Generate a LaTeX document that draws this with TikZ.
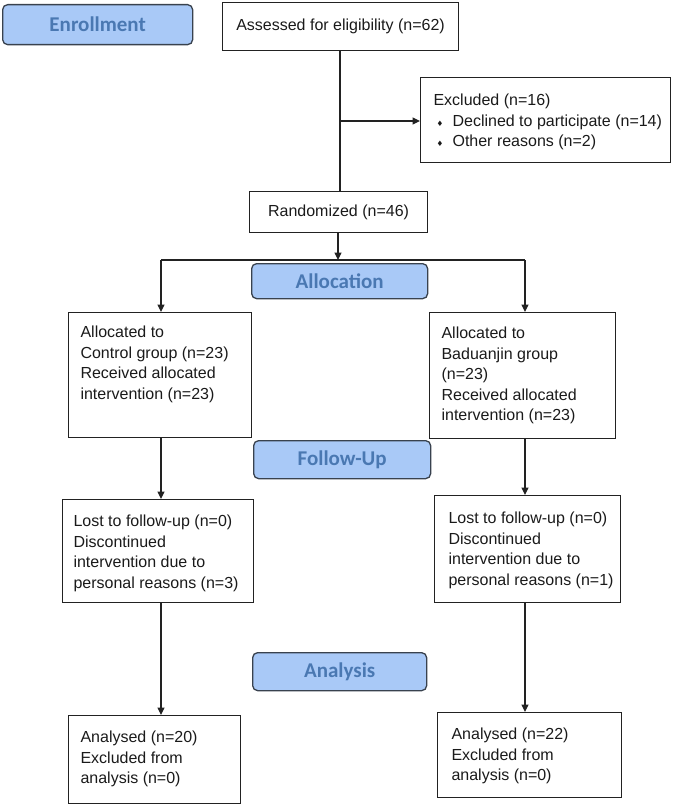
\documentclass[tikz,border=0pt]{standalone}
\usepackage{fontspec}
\setmainfont{Liberation Sans}
\newfontfamily\stagefont{Carlito}
\newfontfamily\symfont{DejaVu Sans}
\usetikzlibrary{arrows.meta}

\definecolor{stagefill}{HTML}{A9C9F7}
\definecolor{stageline}{HTML}{39424E}
\definecolor{stagetext}{HTML}{4A78B2}
\definecolor{boxline}{HTML}{222222}
\definecolor{boxtext}{HTML}{1A1A1A}

% text block of fixed size: width, height, left pad, first baseline, text
\newcommand{\boxtxt}[5]{\parbox[c][#2][t]{#1}{\fontsize{16}{20.6}\selectfont
  \parindent=0pt\leftskip=#3\rightskip=0pt plus 1fil\relax\rule{0pt}{#4}#5}}
\newcommand{\dia}{\makebox[19pt][l]{\hspace{3pt}{\symfont\fontsize{7.5}{7.5}\selectfont ♦}}}

\begin{document}
\begin{tikzpicture}[x=1pt,y=-1pt,
  flowbox/.style={draw=boxline, line width=1.1pt, text=boxtext, inner sep=0pt, anchor=north west},
  stage/.style={draw=stageline, fill=stagefill, line width=1.3pt, rounded corners=5pt,
    text=stagetext, font=\stagefont\bfseries\fontsize{21}{22}\selectfont,
    inner sep=0pt, anchor=north west},
  flow/.style={draw=boxline, line width=1.1pt},
  arr/.style={flow, -{Triangle[length=7.5pt,width=7pt]}}]
\useasboundingbox (0,0) rectangle (672,805);

% stage labels
\node[stage, minimum width=190pt, minimum height=40pt] (enrol) at (2,4) {Enrollment};
\node[stage, minimum width=176pt, minimum height=35pt] (alloc) at (251,263) {Allocation};
\node[stage, minimum width=177pt, minimum height=38pt] (follow) at (253,440) {Follow-Up};
\node[stage, minimum width=174pt, minimum height=38pt] (analysis) at (252,652) {Analysis};

% enrolment
\node[flowbox, minimum width=236pt, minimum height=48pt, font=\fontsize{16}{18}\selectfont] (assess) at (222,2)
  {\raisebox{3pt}{Assessed for eligibility (n=62)}};
\node[flowbox] (excl) at (420,77)
  {\boxtxt{250pt}{85pt}{13pt}{28pt}{Excluded (n=16)\\
   \dia Declined to participate (n=14)\\
   \dia Other reasons (n=2)}};
\node[flowbox, minimum width=178pt, minimum height=41pt, font=\fontsize{16}{18}\selectfont] (rand) at (249,191)
  {Randomized (n=46)};

% allocation
\node[flowbox] (ca) at (68,312)
  {\boxtxt{183pt}{125pt}{12pt}{25pt}{Allocated to\\Control group (n=23)\\Received allocated\\intervention (n=23)}};
\node[flowbox] (ba) at (429,312)
  {\boxtxt{186pt}{126pt}{12pt}{26pt}{Allocated to\\Baduanjin group\\(n=23)\\Received allocated\\intervention (n=23)}};

% follow-up
\node[flowbox] (cl) at (62,499)
  {\boxtxt{191pt}{103pt}{11pt}{27pt}{Lost to follow-up (n=0)\\Discontinued\\intervention due to\\personal reasons (n=3)}};
\node[flowbox] (bl) at (434,495)
  {\boxtxt{186pt}{107pt}{14pt}{28pt}{Lost to follow-up (n=0)\\Discontinued\\intervention due to\\personal reasons (n=1)}};

% analysis
\node[flowbox] (can) at (68,715)
  {\boxtxt{172pt}{88pt}{12pt}{27pt}{Analysed (n=20)\\Excluded from\\analysis (n=0)}};
\node[flowbox] (ban) at (437,712)
  {\boxtxt{184pt}{85pt}{14pt}{27pt}{Analysed (n=22)\\Excluded from\\analysis (n=0)}};

% connectors
\coordinate (exsplit) at (340,121);
\coordinate (split) at (338,260);
\coordinate (sl) at (161,260);
\coordinate (sr) at (525,260);

\draw[flow] (assess.south -| exsplit) -- (rand.north -| exsplit);
\draw[arr] (exsplit) -- (excl.west |- exsplit);
\draw[arr] (rand.south -| split) -- (split);
\draw[flow] (sl) -- (sr);
\draw[arr] (sl) -- (ca.north -| sl);
\draw[arr] (sr) -- (ba.north -| sr);
\draw[arr] (ca.south -| sl) -- (cl.north -| sl);
\draw[arr] (ba.south -| sr) -- (bl.north -| sr);
\draw[arr] (cl.south -| sl) -- (can.north -| sl);
\draw[arr] (bl.south -| sr) -- (ban.north -| sr);
\end{tikzpicture}
\end{document}
